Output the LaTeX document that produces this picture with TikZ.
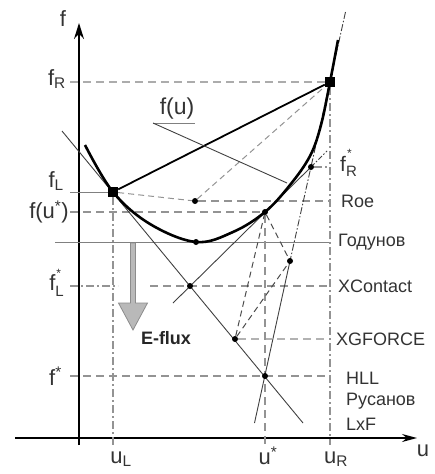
\documentclass[tikz,border=0pt]{standalone}
\usepackage{fontspec}
\setmainfont{Liberation Sans}
\usetikzlibrary{arrows.meta,backgrounds}
\newcommand{\etoile}[1]{\raisebox{-0.5ex}{\shortstack[l]{\hspace{1pt}\fontsize{12}{8}\selectfont*\\[0.5ex]\fontsize{15}{15}\selectfont #1}}}

\begin{document}
\begin{tikzpicture}[x=1pt, y=-1pt]
\tikzstyle{pastille}=[circle, fill=black, minimum size=6pt, inner sep=0pt]
\tikzstyle{carre}=[rectangle, fill=black, minimum size=10pt, inner sep=0pt]
\tikzstyle{tirets}=[draw=gray!85, line width=1.3pt, dash pattern=on 8pt off 5pt]
\tikzstyle{mixte}=[draw=gray!85, line width=1.3pt, dash pattern=on 8pt off 3pt on 2pt off 3pt]
\tikzstyle{fin}=[draw=black!75, line width=0.9pt]
\tikzstyle{gauche}=[anchor=east, text=black!80, font=\fontsize{22}{24}\selectfont, inner sep=1pt]
\tikzstyle{droite}=[anchor=west, text=black!80, font=\fontsize{18}{20}\selectfont, inner sep=1pt]
\tikzstyle{bas}=[text=black!80, font=\fontsize{22}{24}\selectfont, inner sep=1pt]
\useasboundingbox (0,0) rectangle (434,474);
% points du diagramme
\node[carre] (L) at (113,192) {};
\node[carre] (R) at (330,82) {};
\node[pastille] (roe) at (195,201) {};
\node[pastille] (us) at (265,212) {};
\node[pastille] (god) at (196,242) {};
\node[pastille] (xc) at (190,286) {};
\node[pastille] (xg) at (235,339) {};
\node[pastille] (fs) at (265,376) {};
\node[pastille] (frs) at (311,167) {};
\node[pastille] (p) at (290,261) {};
% bouts libres
\coordinate (g) at (70,438);
\coordinate (d) at (330,445);
\coordinate (ax1) at (15,438);
\coordinate (ax2) at (417,438);
\coordinate (ay1) at (79,445);
\coordinate (ay2) at (79,23);
\coordinate (lt1) at (62,131);
\coordinate (lt2) at (303,423);
\coordinate (rt1) at (345.5,12);
\coordinate (rt2) at (254.5,423);
\coordinate (ut1) at (173,303);
\coordinate (ut2) at (327,151);
\coordinate (godg) at (55,242);
\coordinate (fl1) at (150,286);
\coordinate (fu1) at (153,123);
\coordinate (fu2) at (287,183);
\coordinate (ef) at (133,243);
% etiquettes
\node[bas] (f) at (63,19) {f};
\node[gauche] (fR) at (67,79) {f\textsubscript{R}};
\node[gauche] (fL) at (65,181) {f\textsubscript{L}};
\node[gauche] (fus) at (70,212) {f(u\textsuperscript{*})};
\node[gauche] (fLs) at (65,283) {f\etoile{L}};
\node[gauche] (fst) at (63,376) {f\textsuperscript{*}};
\node[bas] (uL) at (121,459) {u\textsubscript{L}};
\node[bas] (ust) at (268,456) {u\textsuperscript{*}};
\node[bas] (uR) at (336,459) {u\textsubscript{R}};
\node[bas] (u) at (423,451) {u};
\node[bas, font=\fontsize{23}{25}\selectfont] (fu) at (177,109) {f(u)};
\node[droite, font=\fontsize{21}{23}\selectfont] (lfRs) at (339,163) {f\etoile{R}};
\node[droite] (lroe) at (340,201) {Roe};
\node[droite] (lgod) at (337,242) {Годунов};
\node[droite] (lxc) at (337,286) {XContact};
\node[droite] (lxg) at (335,339) {XGFORCE};
\node[droite] (lhll) at (345,378) {HLL};
\node[droite] (lrus) at (345,401) {Русанов};
\node[droite] (llxf) at (345,424) {LxF};
\node[text=black!85, font=\bfseries\fontsize{18}{20}\selectfont] (eflux) at (166,338) {E-flux};
\begin{scope}[on background layer]
% axes
\draw[line width=1.4pt, -{Stealth[length=15pt, width=8pt]}] (ax1) -- (ax2);
\draw[line width=1.4pt, -{Stealth[length=16pt, width=10pt]}] (ay1) -- (ay2);
% niveaux horizontaux
\draw[tirets, draw=gray!65] (g |- R) -- (R);
\draw[line width=1pt, gray] (g |- L) -- (L);
\draw[tirets] (g |- us) -- (us);
\draw[tirets] (roe) -- (roe -| d);
\draw[line width=1pt, gray] (godg) -- (godg -| d);
\draw[mixte] (g |- xc) -- ++(48,0);
\draw[tirets] (fl1) -- (fl1 -| d);
\draw[tirets, draw=gray!60] (xg) -- (xg -| d);
\draw[tirets] (g |- fs) -- (fs -| d);
\draw[mixte] (frs) -- (frs -| d);
% verticales
\draw[mixte] (L) -- (L |- d);
\draw[tirets] (us) -- (us |- d);
\draw[mixte] (R) -- (R |- d);
% tangentes
\draw[fin] (lt1) -- (lt2);
\draw[fin, dash pattern=on 7pt off 2pt on 1.5pt off 2pt] (rt1) -- (p.center);
\draw[fin] (p.center) -- (rt2);
\draw[fin] (ut1) -- (frs.center);
\draw[fin, dash pattern=on 5pt off 2pt on 1.5pt off 2pt] (frs.center) -- (ut2);
% corde et Roe
\draw[line width=1.8pt] (L) -- (R);
\draw[tirets, line width=1pt, dash pattern=on 6pt off 4pt] (L) -- (roe);
\draw[tirets, line width=1pt, dash pattern=on 6pt off 4pt] (roe) -- (R);
% XGFORCE
\draw[tirets, line width=1pt, draw=black!70, dash pattern=on 6pt off 4pt] (xg) -- (us);
\draw[tirets, line width=1pt, draw=black!70, dash pattern=on 6pt off 4pt] (xg) -- (p);
\draw[tirets, line width=1pt, draw=black!70, dash pattern=on 6pt off 4pt] (us) -- (p);
% f(u)
\draw[line width=0.8pt, gray] (fu1) -- (fu1 -| fu.east);
\draw[fin] (fu1) -- (fu2);
\draw[line width=2.6pt] plot[smooth, tension=0.6] coordinates {(85,145) (L) (150,224) (god) (233,232) (us) (290,185) (310,156) (321,125) (R) (338,40)};
% fleche E-flux
\filldraw[fill=gray!55, draw=gray!90, line width=0.8pt] (ef) ++(-2.5,0) -- ++(0,60) -- ++(-12,0) -- ++(14.5,27) -- ++(14.5,-27) -- ++(-12,0) -- ++(0,-60) -- cycle;
\end{scope}
\end{tikzpicture}
\end{document}
